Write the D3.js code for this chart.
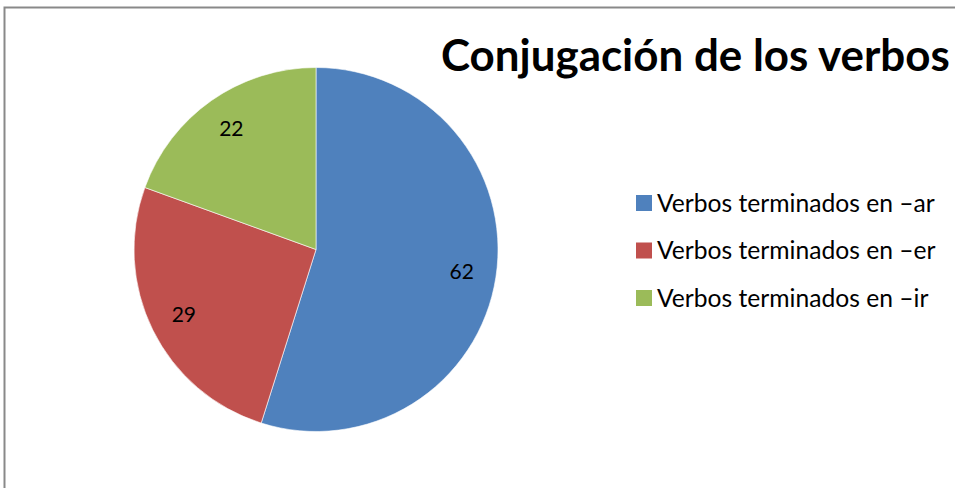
<!DOCTYPE html>
<html>
<head>
<meta charset="utf-8">
<script src="https://cdn.jsdelivr.net/npm/d3@7"></script>
<style>
  body { margin: 0; background: #fff; }
  svg { display: block; font-family: Lato, "Open Sans", sans-serif; }
</style>
</head>
<body>
<div id="chart"></div>
<script>
var title = 'Conjugación de los verbos';
var categories = ['Verbos terminados en –ar', 'Verbos terminados en –er', 'Verbos terminados en –ir'];
var values = [62, 29, 22];
var colors = ['#4f81bd', '#c0504d', '#9bbb59'];

var width = 955, height = 488;

var svg = d3.select('#chart').append('svg')
    .attr('width', width)
    .attr('height', height);

// chart frame (only left + top edges visible in the crop)
svg.append('rect')
    .attr('x', 4.5).attr('y', 7.5)
    .attr('width', 1000).attr('height', 600)
    .style('fill', 'none')
    .style('stroke', '#898989')
    .style('stroke-width', 2);

// Pie
var cx = 316, cy = 249.5, radius = 182;

var pie = d3.pie().sort(null).value(function(d) { return d; });
var arc = d3.arc().innerRadius(0).outerRadius(radius);
var labelArc = d3.arc().innerRadius(radius * 0.81).outerRadius(radius * 0.81);

var g = svg.append('g').attr('transform', 'translate(' + cx + ',' + cy + ')');
var arcs = pie(values);

g.selectAll('path').data(arcs).enter().append('path')
    .attr('d', arc)
    .style('fill', function(d, i) { return colors[i]; })
    .style('stroke', '#fff')
    .style('stroke-width', 0.6);

g.selectAll('text').data(arcs).enter().append('text')
    .attr('transform', function(d) { return 'translate(' + labelArc.centroid(d) + ')'; })
    .attr('dy', '0.35em')
    .style('text-anchor', 'middle')
    .style('font-size', '21px')
    .style('fill', '#000')
    .text(function(d) { return d.data; });

// Title
var t = svg.append('text')
    .attr('x', 441)
    .attr('y', 71)
    .style('font-weight', 'bold')
    .style('font-size', '40px')
    .style('fill', '#000')
    .text(title);
var tw = t.node().getComputedTextLength();
t.style('font-size', (40 * 509 / tw) + 'px');

// Legend
var legend = svg.append('g').attr('transform', 'translate(636,0)');
var rowY = d3.scalePoint().domain(d3.range(categories.length)).range([203, 298]);

var items = legend.selectAll('g').data(categories).enter().append('g')
    .attr('transform', function(d, i) { return 'translate(0,' + rowY(i) + ')'; });

items.append('rect')
    .attr('x', 0).attr('y', -8)
    .attr('width', 16).attr('height', 16)
    .style('fill', function(d, i) { return colors[i]; });

var lt = items.append('text')
    .attr('x', 21)
    .attr('dy', '0.35em')
    .style('font-size', '20px')
    .style('fill', '#000')
    .text(function(d) { return d; });
var lw = lt.nodes()[0].getComputedTextLength();
lt.style('font-size', (20 * 278 / lw) + 'px');
</script>
</body>
</html>
